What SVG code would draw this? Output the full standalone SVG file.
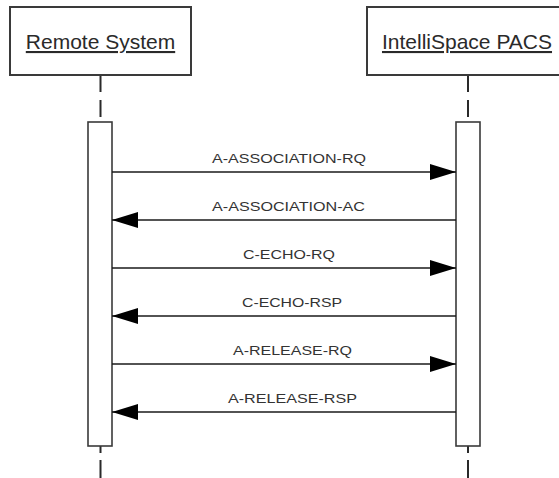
<svg xmlns="http://www.w3.org/2000/svg" width="559" height="478" viewBox="0 0 559 478">
<defs>
<style>
.hdr{fill:#fff;stroke:#3a3a3a;stroke-width:2}
.hdrtxt{font-family:"Liberation Sans",Arial,sans-serif;font-size:21px;fill:#2a2a2a;text-anchor:middle;text-decoration:underline}
.life{stroke:#2a2a2a;stroke-width:2;stroke-dasharray:17 8;fill:none}
.life2{stroke:#2a2a2a;stroke-width:2;stroke-dasharray:7 7 30;fill:none}
.act{fill:#fff;stroke:#3a3a3a;stroke-width:1.6}
.msg{stroke:#1a1a1a;stroke-width:1.5;fill:none}
.lbl{font-family:"Liberation Sans",Arial,sans-serif;font-size:13px;fill:#333;text-anchor:middle}
</style>
<marker id="ah" viewBox="0 0 26 16" refX="26" refY="8" markerWidth="26" markerHeight="16" markerUnits="userSpaceOnUse" orient="auto">
<path d="M0,0 L26,8 L0,16 Z" fill="#000"/>
</marker>
</defs>
<rect width="559" height="478" fill="#fff"/>
<g id="remote">
<line class="life" x1="100.5" y1="75" x2="100.5" y2="122"/>
<line class="life2" x1="100.5" y1="446" x2="100.5" y2="478"/>
<rect class="hdr" x="10" y="7" width="181" height="68"/>
<text class="hdrtxt" x="100.5" y="49">Remote System</text>
<rect class="act" x="88" y="122" width="24" height="324"/>
</g>
<g id="pacs">
<line class="life" x1="468" y1="75" x2="468" y2="122"/>
<line class="life2" x1="468" y1="446" x2="468" y2="478"/>
<rect class="hdr" x="367" y="7" width="200" height="68"/>
<text class="hdrtxt" x="467" y="49">IntelliSpace PACS</text>
<rect class="act" x="456" y="122" width="24" height="324"/>
</g>
<g id="messages">
<line class="msg" x1="112" y1="172" x2="456" y2="172" marker-end="url(#ah)"/>
<text class="lbl" x="289" y="163" textLength="154" lengthAdjust="spacingAndGlyphs">A-ASSOCIATION-RQ</text>
<line class="msg" x1="456" y1="220" x2="112" y2="220" marker-end="url(#ah)"/>
<text class="lbl" x="288.5" y="211" textLength="153" lengthAdjust="spacingAndGlyphs">A-ASSOCIATION-AC</text>
<line class="msg" x1="112" y1="268" x2="456" y2="268" marker-end="url(#ah)"/>
<text class="lbl" x="289" y="259" textLength="92" lengthAdjust="spacingAndGlyphs">C-ECHO-RQ</text>
<line class="msg" x1="456" y1="316" x2="112" y2="316" marker-end="url(#ah)"/>
<text class="lbl" x="292" y="307" textLength="100" lengthAdjust="spacingAndGlyphs">C-ECHO-RSP</text>
<line class="msg" x1="112" y1="364" x2="456" y2="364" marker-end="url(#ah)"/>
<text class="lbl" x="292.5" y="355" textLength="119" lengthAdjust="spacingAndGlyphs">A-RELEASE-RQ</text>
<line class="msg" x1="456" y1="412" x2="112" y2="412" marker-end="url(#ah)"/>
<text class="lbl" x="292.5" y="403" textLength="129" lengthAdjust="spacingAndGlyphs">A-RELEASE-RSP</text>
</g>
</svg>
